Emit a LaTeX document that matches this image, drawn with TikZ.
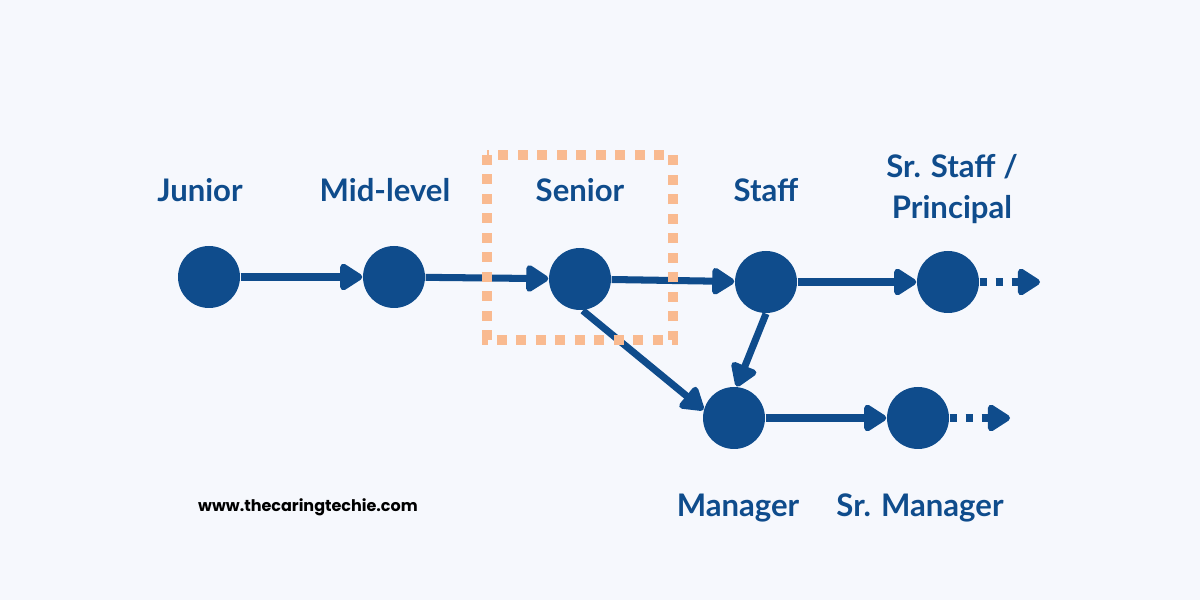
\documentclass[tikz,border=0pt]{standalone}
\usepackage{fontspec}
\setmainfont{Lato}
\newfontfamily\sitefont{Poppins}
\usetikzlibrary{arrows.meta}
\definecolor{navy}{HTML}{0F4C8C}
\definecolor{peach}{HTML}{F9BA90}
\definecolor{paper}{HTML}{F6F8FD}

\begin{document}
\begin{tikzpicture}[
  dot/.style={circle, fill=navy, inner sep=0pt, minimum size=6.2mm},
  lvl/.style={font=\fontsize{8.85}{11.8}\selectfont\bfseries, text=navy, align=center},
  site/.style={font=\sitefont\fontsize{4.55}{6}\selectfont\bfseries, text=black},
  link/.style={draw=navy, line width=2pt, -{Triangle[length=2.5mm, width=3.0mm, round]}},
  more/.style={link, dash pattern=on 0.75mm off 0.85mm},
]
\fill[paper] (0,0) rectangle (12,6);
\useasboundingbox (0,0) rectangle (12,6);

% Levels
\node[dot] (jun) at (2.09,3.23) {};
\node[dot] (mid) at (3.94,3.23) {};
\node[dot] (sen) at (5.80,3.21) {};
\node[dot] (sta) at (7.66,3.18) {};
\node[dot] (sst) at (9.48,3.18) {};
\node[dot] (man) at (7.34,1.82) {};
\node[dot] (smg) at (9.18,1.82) {};
\coordinate (sst-end) at (10.40,3.18);
\coordinate (smg-end) at (10.10,1.82);

% Labels
\node[lvl] (jun-l) at (2.00,4.10) {Junior};
\node[lvl] (mid-l) at (3.85,4.10) {Mid-level};
\node[lvl] (sen-l) at (5.80,4.10) {Senior};
\node[lvl] (sta-l) at (7.66,4.10) {Staff};
\node[lvl] (sst-l) at (9.52,4.11) {Sr. Staff /\\Principal};
\node[lvl] (man-l) at (7.38,0.92) {Manager};
\node[lvl] (smg-l) at (9.20,0.92) {Sr. Manager};
\node[site] (web) at (3.08,0.93) {www.thecaringtechie.com};

% Paths
\draw[link] (jun) -- (mid);
\draw[link] (mid) -- (sen);
\draw[link] (sen) -- (sta);
\draw[link] (sta) -- (sst);
\draw[link] (sen.-85) -- (man.165);
\draw[link] (sta.south) -- (man.85);
\draw[link] (man) -- (smg);
\draw[more] (sst) -- (sst-end);
\draw[more] (smg) -- (smg-end);

% Senior box
\draw[peach, line width=1mm, dash pattern=on 1mm off 0.95mm]
  (4.865,4.45) rectangle (6.73,2.60);
\end{tikzpicture}
\end{document}
